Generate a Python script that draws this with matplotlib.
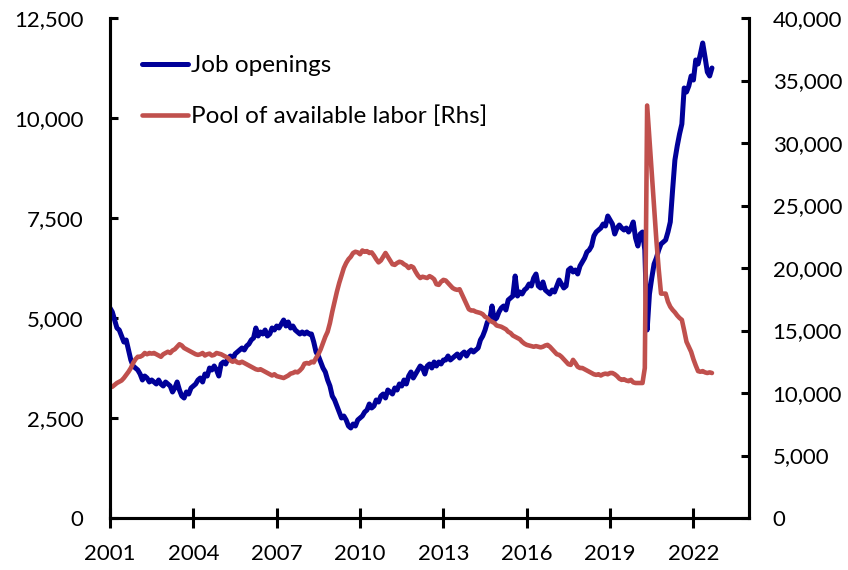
import matplotlib
matplotlib.use("Agg")
import matplotlib.pyplot as plt
import numpy as np

plt.rcParams['font.family'] = ['Lato', 'DejaVu Sans']

# Monthly data, Dec 2000 .. Aug 2022 (thousands)
job_dec2000 = [5250]
job_openings_by_year = {
    2001: [5150, 4950, 4750, 4700, 4550, 4400, 4450, 4200, 3950, 3800, 3750, 3700],
    2002: [3600, 3450, 3550, 3500, 3400, 3450, 3400, 3350, 3450, 3350, 3300, 3400],
    2003: [3350, 3300, 3150, 3250, 3400, 3200, 3050, 3000, 3150, 3100, 3250, 3300],
    2004: [3350, 3450, 3500, 3400, 3600, 3550, 3750, 3700, 3800, 3700, 3550, 3850],
    2005: [3900, 3850, 4000, 4050, 3950, 4100, 4150, 4200, 4250, 4200, 4300, 4350],
    2006: [4450, 4500, 4750, 4550, 4650, 4600, 4700, 4550, 4600, 4750, 4700, 4800],
    2007: [4750, 4850, 4950, 4800, 4900, 4750, 4800, 4700, 4650, 4600, 4650, 4600],
    2008: [4650, 4600, 4600, 4400, 4150, 4050, 3900, 3750, 3650, 3450, 3300, 3050],
    2009: [2950, 2800, 2650, 2500, 2550, 2450, 2300, 2250, 2350, 2300, 2450, 2500],
    2010: [2550, 2650, 2700, 2850, 2750, 2800, 2950, 2900, 3050, 3100, 3000, 3200],
    2011: [3150, 3100, 3250, 3200, 3350, 3300, 3450, 3350, 3550, 3650, 3500, 3600],
    2012: [3700, 3800, 3750, 3600, 3800, 3850, 3750, 3900, 3800, 3900, 3850, 3950],
    2013: [3950, 4050, 3950, 4000, 4050, 4100, 4000, 4100, 4150, 4050, 4150, 4200],
    2014: [4150, 4200, 4250, 4450, 4550, 4700, 4900, 4950, 5300, 4950, 5000, 5150],
    2015: [5250, 5300, 5200, 5450, 5500, 5550, 6050, 5550, 5650, 5600, 5700, 5750],
    2016: [5850, 5800, 6000, 6100, 5800, 5750, 5900, 5700, 5650, 5600, 5700, 5650],
    2017: [5800, 5950, 5850, 5750, 5800, 6200, 6250, 6150, 6200, 6100, 6300, 6400],
    2018: [6500, 6650, 6700, 6800, 7050, 7150, 7200, 7250, 7350, 7300, 7550, 7450],
    2019: [7350, 7100, 7250, 7325, 7250, 7200, 7250, 7150, 7250, 7400, 7000, 6800],
    2020: [7100, 7150, 6700, 4700, 5600, 6000, 6350, 6500, 6700, 6850, 6900, 6950],
    2021: [7150, 7400, 8200, 8950, 9300, 9600, 9850, 10750, 10650, 10800, 11050, 10950],
    2022: [11450, 11350, 11600, 11875, 11525, 11150, 11050, 11250],
}

pool_dec2000 = [10450]
pool_by_year = {
    2001: [10500, 10650, 10800, 10900, 11000, 11200, 11450, 11700, 12000, 12400, 12700, 12900],
    2002: [12900, 13000, 13200, 13100, 13200, 13150, 13200, 13100, 13000, 12900, 13100, 13200],
    2003: [13300, 13200, 13400, 13500, 13700, 13900, 13800, 13600, 13500, 13400, 13300, 13200],
    2004: [13100, 13050, 13100, 13200, 13000, 13100, 13150, 13000, 13050, 13200, 13150, 13100],
    2005: [13000, 12900, 12800, 12600, 12500, 12600, 12450, 12400, 12500, 12400, 12300, 12200],
    2006: [12100, 12000, 11900, 11850, 11900, 11800, 11700, 11600, 11500, 11400, 11500, 11350],
    2007: [11300, 11250, 11200, 11300, 11400, 11550, 11600, 11700, 11650, 11800, 12000, 12350],
    2008: [12400, 12350, 12500, 12450, 12800, 13100, 13500, 14000, 14500, 14900, 15600, 16500],
    2009: [17300, 18100, 18800, 19400, 20000, 20400, 20700, 20900, 21200, 21300, 21250, 21100],
    2010: [21400, 21300, 21350, 21200, 21250, 21000, 20700, 20450, 20600, 20900, 21200, 20900],
    2011: [20600, 20300, 20250, 20400, 20500, 20450, 20300, 20200, 20000, 20150, 20050, 19700],
    2012: [19400, 19200, 19300, 19250, 19200, 19350, 19250, 19100, 18700, 18650, 18900, 19050],
    2013: [19000, 18800, 18600, 18400, 18300, 18250, 18300, 17900, 17500, 17100, 16700, 16600],
    2014: [16600, 16500, 16450, 16400, 16300, 16100, 16000, 15800, 15700, 15600, 15400, 15350],
    2015: [15300, 15200, 15100, 14900, 14800, 14600, 14500, 14400, 14300, 14100, 13950, 13850],
    2016: [13800, 13750, 13700, 13750, 13700, 13650, 13700, 13800, 13850, 13700, 13500, 13300],
    2017: [13100, 13050, 12900, 12700, 12500, 12300, 12250, 12650, 12400, 12100, 12000, 12000],
    2018: [11900, 11800, 11700, 11600, 11500, 11450, 11500, 11400, 11500, 11550, 11500, 11600],
    2019: [11600, 11500, 11350, 11150, 11050, 11100, 11000, 10950, 11050, 10850, 10800, 10800],
    2020: [10800, 10800, 12000, 33000, 30300, 27600, 24900, 22200, 19900, 17950, 17950, 17950],
    2021: [17300, 16900, 16650, 16450, 16200, 16000, 15850, 15000, 14100, 13700, 13300, 12700],
    2022: [12200, 11750, 11700, 11750, 11650, 11600, 11650, 11600],
}

x_ticks = [2001, 2004, 2007, 2010, 2013, 2016, 2019, 2022]
left_ticks = [0, 2500, 5000, 7500, 10000, 12500]
right_ticks = [0, 5000, 10000, 15000, 20000, 25000, 30000, 35000, 40000]

job = np.array(job_dec2000 + [v for y in sorted(job_openings_by_year) for v in job_openings_by_year[y]], dtype=float)
pool = np.array(pool_dec2000 + [v for y in sorted(pool_by_year) for v in pool_by_year[y]], dtype=float)
# month-end positions in decimal years (Dec 2000 ends at 2001.0)
x = 2001 + np.arange(len(job)) / 12.0

BLUE = '#000099'
RED = '#C0504D'

fig = plt.figure(figsize=(8.48, 5.70), dpi=100)
ax = fig.add_axes([110/848, 1 - 518/570, (749-110)/848, (518-18)/570])
ax2 = ax.twinx()

l1, = ax.plot(x, job, color=BLUE, lw=3.6, solid_capstyle='round', solid_joinstyle='round', label='Job openings')
l2, = ax2.plot(x, pool, color=RED, lw=3.3, solid_capstyle='round', solid_joinstyle='round', label='Pool of available labor [Rhs]')

ax.set_xlim(2001, 2024)
ax.set_ylim(0, 12500)
ax2.set_ylim(0, 40000)

ax.set_xticks(x_ticks)
ax.set_xticklabels([str(t) for t in x_ticks])
ax.set_yticks(left_ticks)
ax.set_yticklabels([f'{t:,}' for t in left_ticks])
ax2.set_yticks(right_ticks)
ax2.set_yticklabels([f'{t:,}' for t in right_ticks])

for a in (ax, ax2):
    for s in a.spines.values():
        s.set_linewidth(2.2)
        s.set_color('black')
    a.spines['top'].set_visible(False)

ax.tick_params(axis='y', direction='in', length=6, width=2.2, labelsize=16, pad=19)
ax.tick_params(axis='x', direction='inout', length=14, width=2.2, labelsize=16, pad=12)
ax2.tick_params(axis='y', direction='in', length=6, width=2.2, labelsize=16, pad=17)

leg = ax.legend(handles=[l1, l2], loc='upper left', bbox_to_anchor=(0.035, 0.945),
                frameon=False, fontsize=17.5, handlelength=1.9, handletextpad=0.12,
                labelspacing=1.2, borderaxespad=0)

fig.savefig('out.png', dpi=100)
